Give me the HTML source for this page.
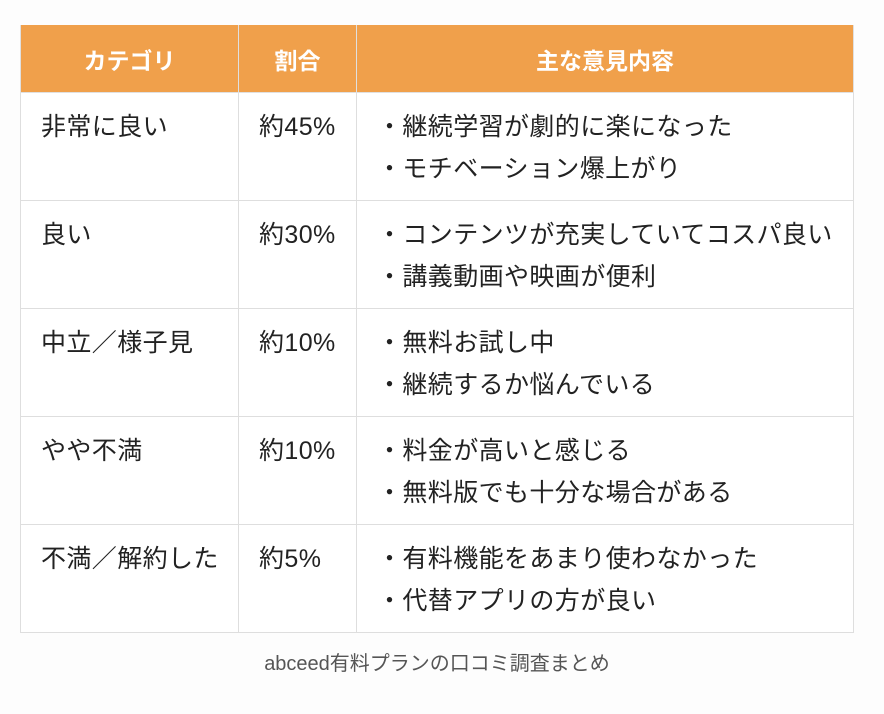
<!DOCTYPE html>
<html><head><meta charset="utf-8"><style>
body{margin:0;width:884px;height:714px;background:#fdfdfd;font-family:"Liberation Sans","Noto Sans CJK JP",sans-serif;position:relative;overflow:hidden}
table{position:absolute;left:20px;top:25px;border-collapse:collapse;width:833px;table-layout:fixed}
th{background:#f0a04b;color:#fff;font-size:23px;font-weight:bold;height:67px;padding:0;border:1px solid #e0e0e0;border-top:none}
td{background:#fff;border:1px solid #dedede;height:108px;vertical-align:top;padding:0;font-size:25px;color:#222;line-height:42px;letter-spacing:0.4px}
td.a{padding-left:20px;padding-top:13px;box-sizing:border-box}
td.b{padding-left:20px;padding-top:13px;box-sizing:border-box}
td.c{padding-left:20px;padding-top:13px;box-sizing:border-box}
.cap{position:absolute;left:0;width:874px;top:647px;text-align:center;font-size:20px;color:#555}
</style></head><body>
<table>
<colgroup><col style="width:218px"><col style="width:118px"><col style="width:497px"></colgroup>
<tr><th>カテゴリ</th><th>割合</th><th>主な意見内容</th></tr>
<tr><td class="a">非常に良い</td><td class="b">約45%</td><td class="c">・継続学習が劇的に楽になった<br>・モチベーション爆上がり</td></tr>
<tr><td class="a">良い</td><td class="b">約30%</td><td class="c">・コンテンツが充実していてコスパ良い<br>・講義動画や映画が便利</td></tr>
<tr><td class="a">中立／様子見</td><td class="b">約10%</td><td class="c">・無料お試し中<br>・継続するか悩んでいる</td></tr>
<tr><td class="a">やや不満</td><td class="b">約10%</td><td class="c">・料金が高いと感じる<br>・無料版でも十分な場合がある</td></tr>
<tr><td class="a">不満／解約した</td><td class="b">約5%</td><td class="c">・有料機能をあまり使わなかった<br>・代替アプリの方が良い</td></tr>
</table>
<div class="cap">abceed有料プランの口コミ調査まとめ</div>
</body></html>
